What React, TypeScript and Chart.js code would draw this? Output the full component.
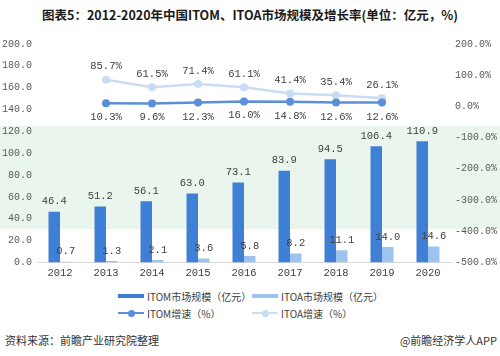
import React, { useEffect, useRef } from "react";
import { Chart, registerables } from "chart.js";

Chart.register(...registerables);

const years = ["2012", "2013", "2014", "2015", "2016", "2017", "2018", "2019", "2020"];
const itomSize = [46.4, 51.2, 56.1, 63.0, 73.1, 83.9, 94.5, 106.4, 110.9];
const itoaSize = [0.7, 1.3, 2.1, 3.6, 5.8, 8.2, 11.1, 14.0, 14.6];
const itomGrowth = [null, 10.3, 9.6, 12.3, 16.0, 14.8, 12.6, 12.6, null];
const itoaGrowth = [null, 85.7, 61.5, 71.4, 61.1, 41.4, 35.4, 26.1, null];
const leftTicks = { min: 0, max: 200, step: 20 };
const rightTicks = { min: -500, max: 200, step: 100 };

const C_ITOM = "#3f80d6";
const C_ITOA = "#9dc4ef";
const C_ITOM_L = "#5b8fd7";
const C_ITOA_L = "#c8dcf3";
const TICK_FONT = "'Liberation Mono', monospace";

const labelPlugin = {
  id: "valueLabels",
  afterDatasetsDraw(chart: any) {
    const ctx = chart.ctx;
    ctx.save();
    ctx.font = "10.5px " + TICK_FONT;
    ctx.fillStyle = "#404040";
    ctx.textAlign = "center";
    chart.data.datasets.forEach((ds: any, i: number) => {
      const meta = chart.getDatasetMeta(i);
      meta.data.forEach((el: any, j: number) => {
        const v = ds.data[j];
        if (v === null || v === undefined) return;
        let text = v.toFixed(1);
        let y = el.y;
        if (ds.type === "line") {
          text += "%";
          if (ds.labelPos === "below") {
            ctx.textBaseline = "top";
            y = el.y + 9;
          } else {
            ctx.textBaseline = "bottom";
            y = el.y - 8;
          }
        } else {
          ctx.textBaseline = "bottom";
          y = el.y - 5;
        }
        ctx.fillText(text, el.x, y);
      });
    });
    ctx.restore();
  },
};

function ChartBox() {
  const ref = useRef<HTMLCanvasElement>(null);
  useEffect(() => {
    if (!ref.current) return;
    const chart = new Chart(ref.current, {
      type: "bar",
      data: {
        labels: years,
        datasets: [
          {
            type: "line",
            label: "ITOM增速（%）",
            data: itomGrowth,
            yAxisID: "y1",
            borderColor: C_ITOM_L,
            backgroundColor: C_ITOM_L,
            borderWidth: 2.5,
            pointRadius: 4,
            pointBackgroundColor: C_ITOM_L,
            pointBorderWidth: 0,
            labelPos: "below",
            order: 0,
          } as any,
          {
            type: "line",
            label: "ITOA增速（%）",
            data: itoaGrowth,
            yAxisID: "y1",
            borderColor: C_ITOA_L,
            backgroundColor: C_ITOA_L,
            borderWidth: 2.5,
            pointRadius: 4,
            pointBackgroundColor: C_ITOA_L,
            pointBorderWidth: 0,
            labelPos: "above",
            order: 1,
          } as any,
          {
            type: "bar",
            label: "ITOM市场规模（亿元）",
            data: itomSize,
            yAxisID: "y",
            backgroundColor: C_ITOM,
            barPercentage: 1,
            categoryPercentage: 0.5,
            order: 2,
          },
          {
            type: "bar",
            label: "ITOA市场规模（亿元）",
            data: itoaSize,
            yAxisID: "y",
            backgroundColor: C_ITOA,
            barPercentage: 1,
            categoryPercentage: 0.5,
            order: 3,
          },
        ],
      },
      options: {
        animation: false,
        responsive: false,
        maintainAspectRatio: false,
        layout: { padding: { top: 44, left: 0, right: 0, bottom: 0 } },
        plugins: { legend: { display: false }, tooltip: { enabled: false } },
        scales: {
          x: {
            grid: { display: false, drawTicks: false },
            border: { display: true, color: "#d9d9d9" },
            ticks: { color: "#404040", font: { family: TICK_FONT, size: 10.5 }, padding: 5 },
          },
          y: {
            position: "left",
            min: leftTicks.min,
            max: leftTicks.max,
            grid: { display: false, drawTicks: false },
            border: { display: false },
            afterFit: (s: any) => { s.width = 37; },
            ticks: {
              stepSize: leftTicks.step,
              color: "#595959",
              font: { family: TICK_FONT, size: 10 },
              padding: 5,
              callback: (v: any) => Number(v).toFixed(1),
            },
          },
          y1: {
            position: "right",
            min: rightTicks.min,
            max: rightTicks.max,
            grid: { display: false, drawTicks: false },
            border: { display: false },
            afterFit: (s: any) => { s.width = 49; },
            ticks: {
              stepSize: rightTicks.step,
              color: "#595959",
              font: { family: TICK_FONT, size: 10 },
              padding: 4,
              callback: (v: any) => Number(v).toFixed(1) + "%",
            },
          },
        },
      },
      plugins: [labelPlugin],
    });
    return () => chart.destroy();
  }, []);
  return <canvas ref={ref} width={500} height={285} style={{ position: "absolute", left: 0, top: 0 }} />;
}

function LegendItem({ label, color, kind }: { label: string; color: string; kind: "bar" | "line" }) {
  return (
    <div style={{ display: "flex", alignItems: "center", height: 16, whiteSpace: "nowrap" }}>
      <div style={{ position: "relative", width: 26, height: 10, marginRight: 3, flex: "none" }}>
        {kind === "bar" ? (
          <div style={{ position: "absolute", left: 0, top: 3, width: 26, height: 4, background: color }} />
        ) : (
          <>
            <div style={{ position: "absolute", left: 0, top: 4, width: 26, height: 2, background: color }} />
            <div style={{ position: "absolute", left: 9.5, top: 1.5, width: 7, height: 7, borderRadius: 4, background: color }} />
          </>
        )}
      </div>
      <span>{label}</span>
    </div>
  );
}

export default function App() {
  return (
    <div
      style={{
        position: "fixed",
        left: 0,
        top: 0,
        width: 500,
        height: 356,
        background: "#ffffff",
        overflow: "hidden",
        fontFamily: "'Noto Sans CJK SC', sans-serif",
      }}
    >
      <div style={{ position: "absolute", left: 0, top: 126, width: 500, height: 103, background: "#eaf6ed" }} />
      <div
        style={{
          position: "absolute",
          left: 0,
          top: 5,
          width: 500,
          textAlign: "center",
          fontWeight: "bold",
          fontSize: 12.5,
          color: "#1a1a1a",
        }}
      >
        图表5：2012-2020年中国ITOM、ITOA市场规模及增长率(单位：亿元，%)
      </div>
      <ChartBox />
      <div
        style={{
          position: "absolute",
          left: 118,
          top: 288,
          display: "grid",
          gridTemplateColumns: "134px 140px",
          rowGap: 1,
          fontSize: 10,
          color: "#404040",
          fontFamily: "'Noto Sans CJK SC', sans-serif",
        }}
      >
        <LegendItem label="ITOM市场规模（亿元）" color={C_ITOM} kind="bar" />
        <LegendItem label="ITOA市场规模（亿元）" color={C_ITOA} kind="bar" />
        <LegendItem label="ITOM增速（%）" color={C_ITOM_L} kind="line" />
        <LegendItem label="ITOA增速（%）" color={C_ITOA_L} kind="line" />
      </div>
      <div style={{ position: "absolute", left: 5, top: 332, fontSize: 11, color: "#333" }}>
        资料来源：前瞻产业研究院整理
      </div>
      <div style={{ position: "absolute", right: 3, top: 332, fontSize: 11, color: "#333" }}>
        @前瞻经济学人APP
      </div>
    </div>
  );
}
